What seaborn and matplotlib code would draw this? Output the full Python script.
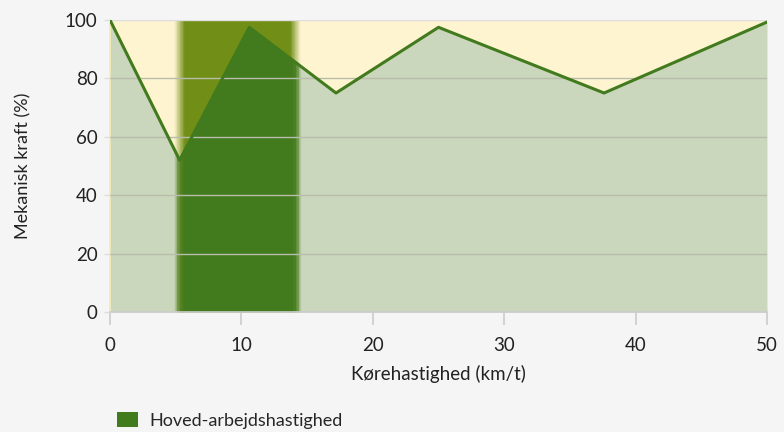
import numpy as np
import pandas as pd
import matplotlib.pyplot as plt
import seaborn as sns
from matplotlib.patches import Patch

# Data
speed = [0, 5.3, 10.6, 17.2, 25.0, 37.6, 50.0]
power = [100, 52, 97.5, 75, 97.5, 75, 99.3]
band_start = 5.3
band_end = 14.1
x_ticks = [0, 10, 20, 30, 40, 50]
y_ticks = [0, 20, 40, 60, 80, 100]

df = pd.DataFrame({"speed": speed, "power": power})

sns.set_theme(style="white")
plt.rcParams['font.family'] = ['Lato', 'DejaVu Sans']

yellow = "#fff4d0"
pale_green = "#cbd7bc"
olive = "#718f17"
dark_green = "#427a1e"

fig = plt.figure(figsize=(7.84, 4.32), dpi=100, facecolor="#f5f5f5")
ax = fig.add_axes([0.1403, 0.2778, 0.8380, 0.6759])
ax.set_facecolor(yellow)

# base fills
ax.fill_between(df["speed"], 0, df["power"], color=pale_green, lw=0, zorder=1)

# working-speed band with soft edges
def band(a, b, alpha):
    span = ax.axvspan(a, b, color=olive, alpha=alpha, lw=0, zorder=2)
    fb = ax.fill_between(df["speed"], 0, df["power"], color=dark_green,
                         alpha=alpha, lw=0, zorder=2)
    fb.set_clip_path(span)

edge = 0.8
steps = 14
band(band_start + edge / 2, band_end - edge / 2, 1.0)
for i in range(steps):
    w = edge / steps
    a_alpha = (i + 0.5) / steps
    band(band_start - edge / 2 + i * w, band_start - edge / 2 + (i + 1) * w, a_alpha)
    band(band_end + edge / 2 - (i + 1) * w, band_end + edge / 2 - i * w, a_alpha)

# grid lines
for yv in y_ticks[1:-1]:
    ax.axhline(yv, color="#b8bcaa", lw=1, zorder=3)
ax.axhline(100, color="#dddddd", lw=1, zorder=3)

sns.lineplot(data=df, x="speed", y="power", color=dark_green, lw=2.2,
             ax=ax, zorder=4)

ax.set_xlim(0, 50)
ax.set_ylim(0, 100)
ax.set_xticks(x_ticks)
ax.set_yticks(y_ticks)
ax.tick_params(axis="x", colors="#cccccc", length=9, width=1.2,
               labelcolor="#222222", labelsize=13.5, pad=9)
ax.tick_params(axis="y", colors="#dddddd", length=4, width=1,
               labelcolor="#222222", labelsize=13.5, pad=5)
ax.tick_params(axis="both", which="both", bottom=True, left=True)

for s in ["top", "right"]:
    ax.spines[s].set_visible(False)
ax.spines["left"].set_color("#f3e9b8")
ax.spines["bottom"].set_color("#cccccc")
ax.spines["bottom"].set_linewidth(1.2)

ax.set_xlabel("Kørehastighed (km/t)", fontsize=13.5, color="#222222", labelpad=8)
ax.set_ylabel("Mekanisk kraft (%)", fontsize=13, color="#222222", labelpad=24)

fig.legend(handles=[Patch(facecolor=dark_green, edgecolor="none")],
           labels=["Hoved-arbejdshastighed"], loc="lower left",
           bbox_to_anchor=(0.128, -0.03), frameon=False, fontsize=13,
           handlelength=1.2, handleheight=0.9, handletextpad=0.6)

fig.savefig("out.png", dpi=100, facecolor=fig.get_facecolor())
